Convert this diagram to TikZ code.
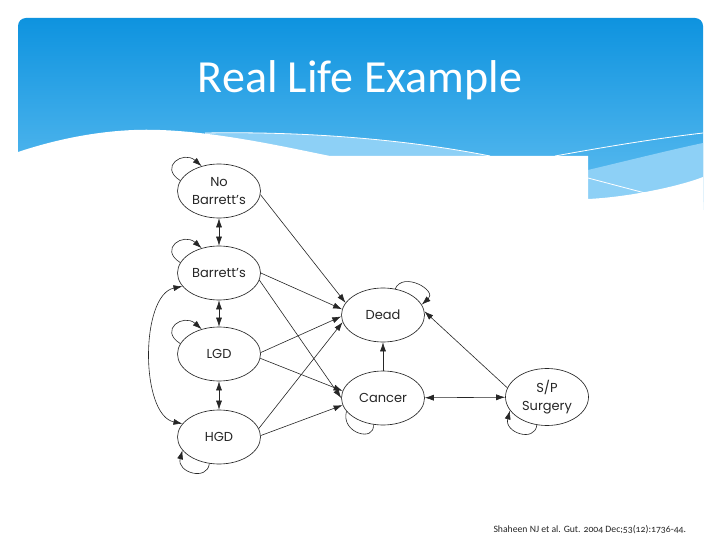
\documentclass[tikz,border=0pt]{standalone}
\usepackage{fontspec}
\setmainfont{Carlito}
\newfontfamily\nodefont{Poppins}
\usetikzlibrary{arrows.meta,shapes.geometric}
\definecolor{bluetop}{HTML}{0E93DF}
\definecolor{bluebot}{HTML}{62BFF1}
\definecolor{bandblue}{HTML}{8DD0F6}
\definecolor{inkc}{HTML}{262626}
\tikzset{
  st/.style={ellipse, draw=inkc, line width=0.65pt, minimum width=83pt, minimum height=54pt,
    inner sep=0pt, align=center, text=inkc, font=\nodefont\fontsize{13}{18}\selectfont},
  arr/.style={-{Latex[length=9pt,width=6pt]}, draw=inkc, line width=0.6pt},
  darr/.style={{Latex[length=9pt,width=6pt]}-{Latex[length=9pt,width=6pt]}, draw=inkc, line width=0.6pt},
  plain/.style={draw=inkc, line width=0.6pt},
  wline/.style={draw=white, line width=0.8pt}
}
\begin{document}
\begin{tikzpicture}[x=1pt,y=-1pt]
\useasboundingbox (0,0) rectangle (720,540);
\fill[white] (0,0) rectangle (720,540);
% header
\shade[top color=bluetop, bottom color=bluebot, rounded corners=8pt]
  (18,210) -- (18,18) -- (703,18) -- (703,210) [sharp corners] -- cycle;
\fill[bandblue] (205,133) .. controls (320,131) and (420,142) .. (490,156) -- (205,156) -- cycle;
\fill[bandblue] (588,170) .. controls (630,160) and (670,150) .. (703,143) -- (703,210) -- (588,210) -- cycle;
\draw[wline] (205,133) .. controls (320,131) and (420,142) .. (490,156);
\draw[wline] (555,156) .. controls (610,146) and (660,138) .. (703,133);
\draw[wline] (588,178) -- (645,193);
\fill[white] (18,152) .. controls (60,138) and (110,128) .. (160,130)
  .. controls (220,132) and (290,148) .. (330,156) -- (588,156) -- (588,215) -- (18,215) -- cycle;
\fill[white] (588,199) .. controls (630,197) and (680,186) .. (703,177) -- (703,215) -- (588,215) -- cycle;
\node[text=white, font=\fontsize{46}{50}\selectfont] (title) at (360,80) {Real Life Example};
% states
\node[st] (nb) at (219,191) {No\\Barrett’s};
\node[st] (bar) at (219,273) {Barrett’s};
\node[st] (lgd) at (219,354) {LGD};
\node[st] (hgd) at (219,437) {HGD};
\node[st] (dead) at (383,315) {Dead};
\node[st] (can) at (383,398) {Cancer};
\node[st, minimum height=57pt] (sp) at (547,397) {S/P\\Surgery};
% self loops
\draw[arr] (nb.165) .. controls +(-22,-14) and +(-18,-16) .. (nb.125);
\draw[arr] (bar.165) .. controls +(-22,-14) and +(-18,-16) .. (bar.125);
\draw[arr] (lgd.165) .. controls +(-22,-14) and +(-18,-16) .. (lgd.125);
\draw[arr] (hgd.250) .. controls +(-2,18) and +(-6,22) .. (hgd.200);
\draw[arr] (dead.65) .. controls +(8,-18) and +(16,-14) .. (dead.15);
\draw[plain] (can.200) .. controls +(-6,22) and +(2,18) .. (can.250);
\draw[arr] (sp.250) .. controls +(-2,18) and +(-6,22) .. (sp.200);
% vertical chain
\draw[darr] (nb) -- (bar);
\draw[darr] (bar) -- (lgd);
\draw[darr] (lgd) -- (hgd);
\draw[darr] (bar.200) .. controls (140,295) and (140,415) .. (hgd.160);
% to dead / cancer
\draw[arr] (nb.355) -- (dead.162);
\draw[arr] (bar.0) -- (dead.172);
\draw[arr] (bar.350) -- (can.180);
\draw[arr] (lgd.2) -- (dead.182);
\draw[arr] (lgd.354) -- (can.170);
\draw[arr] (hgd.12) -- (dead.190);
\draw[arr] (hgd.2) -- (can.190);
\draw[arr] (can) -- (dead);
\draw[darr] (can) -- (sp);
\draw[arr] (sp.167) -- (dead.5);
% citation
\node[anchor=west, text=inkc, font=\fontsize{9.7}{11}\selectfont\addfontfeatures{Numbers=OldStyle}] (cite) at (490,530) {Shaheen NJ et al. Gut. 2004 Dec;53(12):1736-44.};
\end{tikzpicture}
\end{document}
